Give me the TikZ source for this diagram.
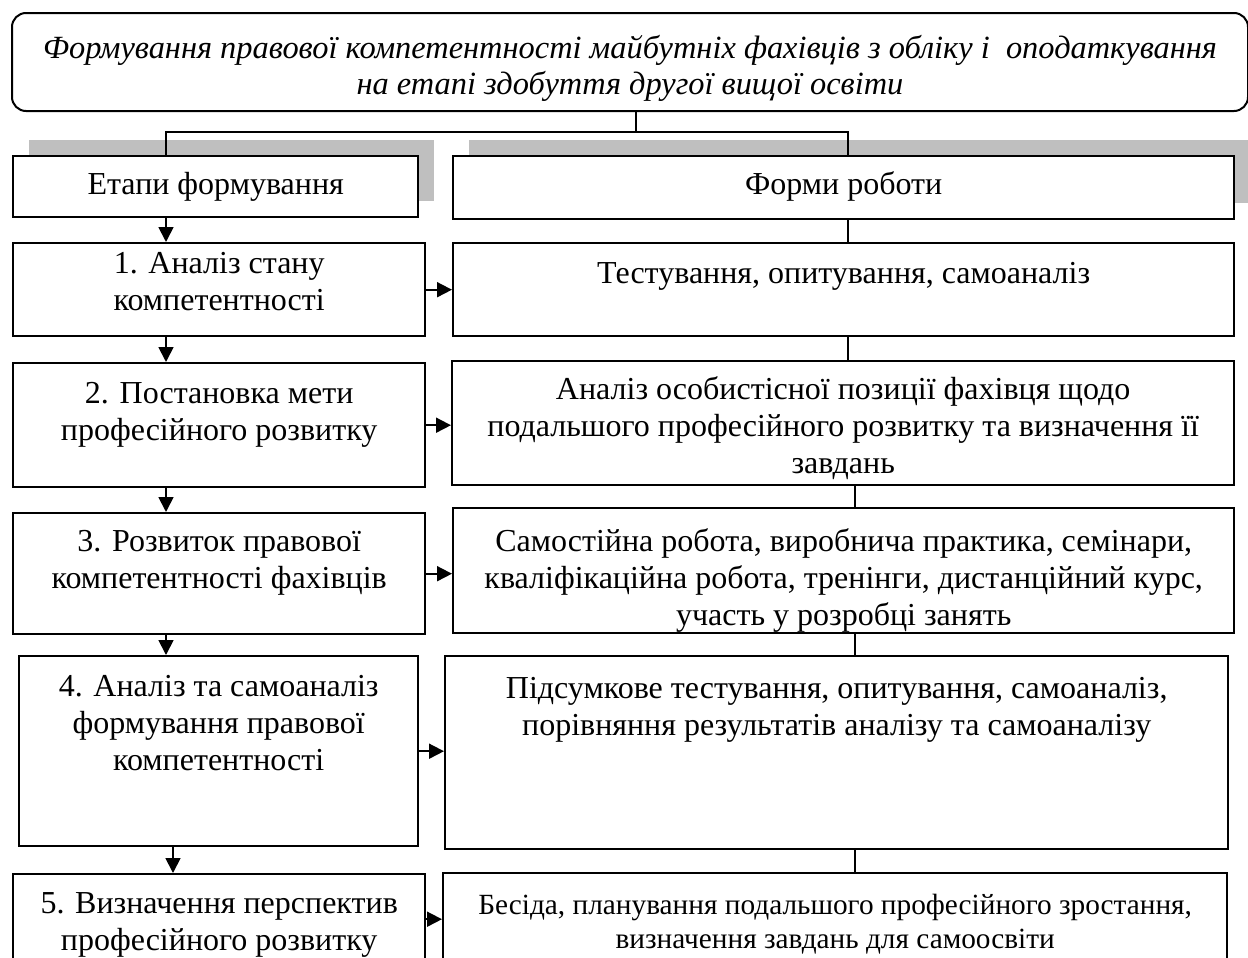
\documentclass[tikz,border=0pt]{standalone}
\usepackage{fontspec}
\setmainfont{Liberation Serif}
\usetikzlibrary{arrows.meta, calc, positioning, shadows}
\tikzset{>={Triangle[length=7.5pt, width=7.5pt]}}
\newlength{\pxu}
\setlength{\pxu}{0.5pt}
\newcommand{\cell}[4][7pt]{\begin{minipage}[c][#3\pxu][t]{#2\pxu}\centering\vspace*{#1}\strut #4\end{minipage}}
\tikzset{box-r/.style = {draw, rectangle, line width=1.2pt, inner sep=0pt, anchor=north west, fill=white}}
\tikzset{box-h/.style = {box-r, drop shadow={shadow xshift=8pt, shadow yshift=8pt, fill=black!25, opacity=1}}}
\tikzset{box-t/.style = {box-r, rounded corners=7pt, line width=1pt, font=\fontsize{16.2}{17.8}\selectfont\itshape}}

\begin{document}
\begin{tikzpicture}[x=0.5pt, y=-0.5pt, line width=0.9pt, font=\fontsize{16}{18.6}\selectfont]
  \clip (0,0) rectangle (1248,958);
  \coordinate (bar) at (636,132);
  \coordinate (lx) at (166,0);
  \coordinate (lx2) at (173,0);
  \coordinate (rx) at (848,0);
  \coordinate (rx2) at (855,0);
  \path (11,12) node[box-t] (T) {\cell[10.5pt]{1236}{98}{Формування правової компетентності майбутніх фахівців з обліку і~ оподаткування\\на етапі здобуття другої вищої освіти}}
        (12,155) node[box-h] (E) {\cell[6pt]{405}{61}{Етапи формування}}
      ++(440,0) node[box-h] (F) {\cell[6pt]{781}{63}{Форми роботи}}
        (12,242) node[box-r] (L1) {\cell[2pt]{412}{93}{1. Аналіз стану\\компетентності}}
      ++(440,0) node[box-r] (R1) {\cell{781}{93}{Тестування, опитування, самоаналіз}}
        (12,362) node[box-r] (L2) {\cell{412}{124}{2. Постановка мети\\професійного розвитку}}
      ++(439,-2) node[box-r] (R2) {\cell[6pt]{782}{124}{Аналіз особистісної позиції фахівця щодо\\подальшого професійного розвитку та визначення її\\завдань}}
        (12,512) node[box-r] (L3) {\cell[6pt]{412}{121}{3. Розвиток правової\\компетентності фахівців}}
      ++(440,-5) node[box-r] (R3) {\cell[8.5pt]{781}{125}{Самостійна робота, виробнича практика, семінари,\\кваліфікаційна робота, тренінги, дистанційний курс,\\участь у розробці занять}}
        (18,655) node[box-r] (L4) {\cell{399}{190}{4. Аналіз та самоаналіз\\формування правової\\компетентності}}
      ++(426,0) node[box-r] (R4) {\cell[8pt]{783}{193}{Підсумкове тестування, опитування, самоаналіз,\\порівняння результатів аналізу та самоаналізу}}
        (12,873) node[box-r] (L5) {\cell[6.5pt]{412}{90}{5. Визначення перспектив\\професійного розвитку}}
      ++(430,-1) node[box-r, font=\fontsize{14.65}{17}\selectfont] (R5) {\cell[8.5pt]{784}{93}{Бесіда, планування подальшого професійного зростання,\\визначення завдань для самоосвіти}};

  \draw (T.south-|bar) -- (bar);
  \draw (E.north-|lx) |- (bar) -| (F.north-|rx);

  \foreach \i/\o in
  {E.south-|lx/L1.north-|lx, L1.south-|lx/L2.north-|lx,
   L2.south-|lx/L3.north-|lx, L3.south-|lx/L4.north-|lx,
   L4.south-|lx2/L5.north-|lx2,
   L1.east/R1.west|-L1.east, L2.east/R2.west|-L2.east,
   L3.east/R3.west|-L3.east, L4.east/R4.west|-L4.east,
   L5.east/R5.west|-L5.east}
  {
    \draw[->] (\i) -- (\o);
  }
  \foreach \i/\o in
  {F.south-|rx/R1.north-|rx, R1.south-|rx/R2.north-|rx,
   R2.south-|rx2/R3.north-|rx2, R3.south-|rx2/R4.north-|rx2,
   R4.south-|rx2/R5.north-|rx2}
  {
    \draw (\i) -- (\o);
  }
\end{tikzpicture}
\end{document}
